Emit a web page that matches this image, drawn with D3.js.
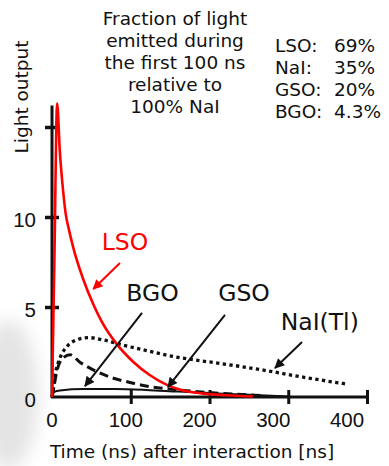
<!DOCTYPE html>
<html>
<head>
<meta charset="utf-8">
<script src="https://cdn.jsdelivr.net/npm/d3@7"></script>
<style>
  html, body { margin: 0; padding: 0; background: #fff; }
  svg { display: block; }
</style>
</head>
<body>
<div id="chart"></div>
<script>
// light output vs time for four scintillators

const xTicks = [0, 100, 200, 300, 400];
const yTicks = [0, 5, 10, 15];
const yTickLabels = ['0', '5', '10', ''];

const lsoT = [0, 3, 6.5, 10, 14, 17, 22, 27, 40, 53, 63, 82, 103, 124, 146, 163, 190, 220, 255];
const lsoV = [0, 7.5, 16.3, 13.6, 11.5, 10.3, 9.2, 8.3, 6.5, 5.1, 4.2, 2.95, 1.96, 1.22, 0.67, 0.4, 0.2, 0.1, 0.03];

const naiT = [0, 2, 4, 10, 19, 31, 46, 65, 90, 120, 154, 188, 230, 273, 315, 374];
const naiV = [0, 0.5, 1.2, 2.15, 2.8, 3.17, 3.3, 3.17, 2.88, 2.58, 2.25, 2.02, 1.76, 1.46, 1.13, 0.72];

const gsoT = [0, 3, 6, 14, 23, 35, 57, 78, 99, 124, 150, 190, 230, 270];
const gsoV = [0, 0.7, 1.4, 2.17, 2.35, 1.95, 1.41, 1.04, 0.81, 0.57, 0.44, 0.28, 0.16, 0.08];

const bgoT = [0, 3, 10, 40, 80, 120, 160, 200, 250, 300];
const bgoV = [0, 0.28, 0.36, 0.44, 0.44, 0.39, 0.3, 0.22, 0.12, 0.03];

const fractionText = ['Fraction of light', 'emitted during', 'the first 100 ns', 'relative to', '100% NaI'];
const fractionNames = ['LSO:', 'NaI:', 'GSO:', 'BGO:'];
const fractionValues = ['69%', '35%', '20%', '4.3%'];

// label text and arrow (from -> to) in data units
const curveNames = ['LSO', 'BGO', 'GSO', 'NaI(Tl)'];
const labelAt = [[92.7, 8.6], [127.6, 5.78], [243.8, 5.78], [340, 4.17]];
const arrowFrom = [[86.3, 7.44], [114.3, 4.67], [219.7, 4.56], [317.5, 3.06]];
const arrowTo = [[52.4, 6.0], [41.9, 0.61], [147.3, 0.56], [283.2, 1.61]];

const width = 389, height = 466;
const svg = d3.select('#chart').append('svg')
  .attr('width', width)
  .attr('height', height);

const x = d3.scaleLinear().domain([0, 400]).range([52, 367]);
const xLabel = d3.scaleLinear().domain([0, 400]).range([52, 347]);
const y = d3.scaleLinear().domain([0, 15]).range([397, 127]);

// faint smudge at the lower left
const defs = svg.append('defs');
defs.append('filter').attr('id', 'blur')
  .attr('x', '-50%').attr('y', '-50%').attr('width', '200%').attr('height', '200%')
  .append('feGaussianBlur').attr('stdDeviation', 9);
svg.append('ellipse')
  .attr('cx', 8).attr('cy', 395).attr('rx', 30).attr('ry', 75)
  .attr('fill', '#e4e4e4')
  .attr('filter', 'url(#blur)');

defs.selectAll('marker')
  .data([['head-black', '#111'], ['head-red', '#ff0000']])
  .enter().append('marker')
  .attr('id', d => d[0])
  .attr('viewBox', '0 0 10 10')
  .attr('refX', 9).attr('refY', 5)
  .attr('markerWidth', 6).attr('markerHeight', 5)
  .attr('markerUnits', 'strokeWidth')
  .attr('orient', 'auto')
  .append('path')
  .attr('d', 'M0,0 L10,5 L0,10 z')
  .attr('fill', d => d[1]);

// axes
const xAxis = svg.append('g')
  .attr('transform', `translate(0,${y(0)})`)
  .call(d3.axisBottom(x).tickValues(xTicks.slice(1)).tickSize(14).tickFormat(''));
xAxis.select('.domain').attr('d', `M${x(0) - 1},0H${x(400) + 1}`).attr('stroke', '#111').attr('stroke-width', 3);
xAxis.selectAll('.tick line').attr('y1', -7).attr('y2', 7).attr('stroke', '#111').attr('stroke-width', 3);

const yAxis = svg.append('g')
  .attr('transform', `translate(${x(0)},0)`)
  .call(d3.axisLeft(y).tickValues(yTicks.slice(1)).tickSize(14).tickFormat(''));
yAxis.select('.domain').attr('d', `M0,${y(16.2)}V${y(0) + 1}`).attr('stroke', '#111').attr('stroke-width', 3);
yAxis.selectAll('.tick line').attr('x1', -7).attr('x2', 7).attr('stroke', '#111').attr('stroke-width', 3.5);

svg.append('g').selectAll('text')
  .data(xTicks)
  .enter().append('text')
  .attr('x', d => xLabel(d))
  .attr('y', y(0) + 23)
  .attr('dy', '0.35em')
  .attr('text-anchor', 'middle')
  .attr('font-family', 'Liberation Sans, Arial, sans-serif')
  .attr('font-size', 20.5)
  .attr('fill', '#111')
  .text(d => d);

svg.append('g').selectAll('text')
  .data(yTicks)
  .enter().append('text')
  .attr('x', 36)
  .attr('y', d => y(d) + 3)
  .attr('dy', '0.35em')
  .attr('text-anchor', 'end')
  .attr('font-family', 'Liberation Sans, Arial, sans-serif')
  .attr('font-size', 20.5)
  .attr('fill', '#111')
  .text((d, i) => yTickLabels[i]);

svg.append('text')
  .attr('x', 192)
  .attr('y', 452)
  .attr('dy', '0.35em')
  .attr('text-anchor', 'middle')
  .attr('font-family', 'DejaVu Sans, Verdana, sans-serif')
  .attr('font-size', 18.5)
  .attr('fill', '#111')
  .text('Time (ns) after interaction [ns]');

svg.append('text')
  .attr('transform', 'translate(22,97) rotate(-90)')
  .attr('dy', '0.35em')
  .attr('text-anchor', 'middle')
  .attr('font-family', 'DejaVu Sans, Verdana, sans-serif')
  .attr('font-size', 18.5)
  .attr('fill', '#111')
  .text('Light output');

// curves
const line = d3.line()
  .x(d => x(d[0]))
  .y(d => y(d[1]))
  .curve(d3.curveMonotoneX);

const series = [
  { t: naiT, v: naiV, color: '#111', w: 3.3, dash: '3.3 3.4' },
  { t: gsoT, v: gsoV, color: '#111', w: 3, dash: '9 5' },
  { t: bgoT, v: bgoV, color: '#111', w: 2, dash: null },
  { t: lsoT, v: lsoV, color: '#ff0000', w: 2.6, dash: null }
];

svg.append('g').selectAll('path')
  .data(series)
  .enter().append('path')
  .attr('d', s => line(s.t.map((t, i) => [t, s.v[i]])))
  .attr('fill', 'none')
  .attr('stroke', s => s.color)
  .attr('stroke-width', s => s.w)
  .attr('stroke-dasharray', s => s.dash)
  .attr('stroke-linejoin', 'round');

// annotations
svg.append('g').selectAll('line')
  .data(curveNames)
  .enter().append('line')
  .attr('x1', (d, i) => x(arrowFrom[i][0]))
  .attr('y1', (d, i) => y(arrowFrom[i][1]))
  .attr('x2', (d, i) => x(arrowTo[i][0]))
  .attr('y2', (d, i) => y(arrowTo[i][1]))
  .attr('stroke', d => d === 'LSO' ? '#ff0000' : '#111')
  .attr('stroke-width', 2)
  .attr('marker-end', d => d === 'LSO' ? 'url(#head-red)' : 'url(#head-black)');

svg.append('g').selectAll('text')
  .data(curveNames)
  .enter().append('text')
  .attr('x', (d, i) => x(labelAt[i][0]))
  .attr('y', (d, i) => y(labelAt[i][1]))
  .attr('dy', '0.35em')
  .attr('text-anchor', 'middle')
  .attr('font-family', 'DejaVu Sans, Verdana, sans-serif')
  .attr('font-size', 23.5)
  .attr('fill', d => d === 'LSO' ? '#ff0000' : '#111')
  .text(d => d);

// fraction note at the top
svg.append('g').selectAll('text')
  .data(fractionText)
  .enter().append('text')
  .attr('x', 175)
  .attr('y', (d, i) => 19 + i * 22)
  .attr('dy', '0.35em')
  .attr('text-anchor', 'middle')
  .attr('font-family', 'DejaVu Sans, Verdana, sans-serif')
  .attr('font-size', 18.5)
  .attr('fill', '#111')
  .text(d => d);

const rows = svg.append('g').selectAll('g')
  .data(fractionNames)
  .enter().append('g')
  .attr('transform', (d, i) => `translate(0,${46 + i * 22})`);

rows.append('text')
  .attr('x', 275)
  .attr('dy', '0.35em')
  .attr('font-family', 'DejaVu Sans, Verdana, sans-serif')
  .attr('font-size', 18.5)
  .attr('fill', '#111')
  .text(d => d);

rows.append('text')
  .attr('x', 334)
  .attr('dy', '0.35em')
  .attr('font-family', 'DejaVu Sans, Verdana, sans-serif')
  .attr('font-size', 18.5)
  .attr('fill', '#111')
  .text((d, i) => fractionValues[i]);
</script>
</body>
</html>
